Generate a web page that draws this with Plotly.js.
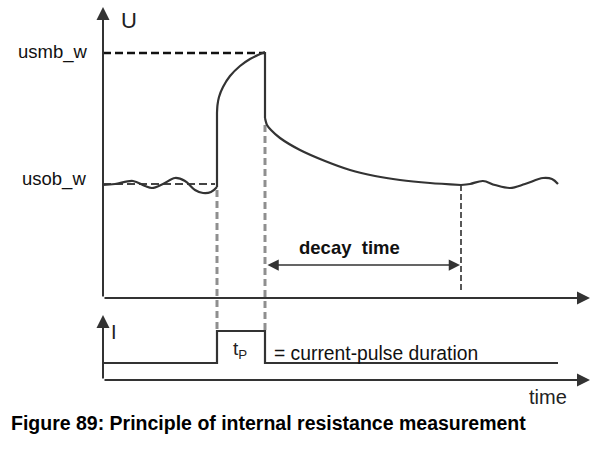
<!DOCTYPE html>
<html><head><meta charset="utf-8">
<script src="https://cdn.plot.ly/plotly-3.0.1.min.js"></script>
<style>html,body{margin:0;padding:0;background:#fff}#chart{width:612px;height:454px}</style>
</head><body><div id="chart"></div>
<script>
// Schematic values (arbitrary units): time t, voltage U, current I
var usmb = 24.5, usob = 11.4;
var tPulseStart = 11.4, tPulseEnd = 16.2, tDecayEnd = 35.8, tAxisEnd = 48.7;

var tBase = [0, 1.2, 3.0, 4.2, 4.9, 6.0, 7.2, 8.2, 9.2, 10.0, 10.8, 11.4];
var uBase = [11.3, 11.4, 11.7, 11.2, 11.0, 11.4, 12.0, 11.7, 10.8, 10.5, 10.6, 11.1];

var tRise = [11.4, 11.4, 11.45, 11.6, 12.0, 12.7, 13.7, 14.7, 15.5, 16.2];
var uRise = [11.1, 18.5, 19.3, 20.1, 21.1, 22.2, 23.2, 23.9, 24.3, 24.6];

var tDecay = [16.2, 16.2, 16.4, 16.8, 17.7, 19.7, 22.2, 24.7, 27.2, 29.7, 32.7, 35.8];
var uDecay = [24.6, 18.0, 17.3, 16.8, 16.0, 14.8, 13.7, 12.8, 12.2, 11.8, 11.5, 11.3];

var tTail = [35.8, 36.7, 38.0, 39.2, 40.7, 42.2, 44.0, 44.9, 45.5];
var uTail = [11.3, 11.4, 11.7, 11.3, 11.0, 11.4, 12.0, 11.9, 11.4];

var tCurrent = [0, 11.4, 11.4, 16.2, 16.2, 45.5];
var iCurrent = [0, 0, 1, 1, 0, 0];

var lineCol = '#333333';
var FONT = 'Liberation Sans, Arial, sans-serif';

function line(x, y, opts) {
  return Object.assign({x: x, y: y, mode: 'lines', hoverinfo: 'skip', showlegend: false,
    line: {color: lineCol, width: 2.2}}, opts || {});
}

var traces = [
  line([0, tPulseEnd], [usmb, usmb], {line: {color: '#111', width: 2.5, dash: '8px,4px'}}),
  line([0, 11.2], [usob, usob], {line: {color: '#444', width: 2, dash: '8px,4px'}}),
  line([tPulseStart, tPulseStart], [10.8, -3.3], {line: {color: '#8f8f8f', width: 3, dash: '7px,4px'}}),
  line([tPulseEnd, tPulseEnd], [17.3, -3.3], {line: {color: '#8f8f8f', width: 3, dash: '7px,4px'}}),
  line([tDecayEnd, tDecayEnd], [11.3, 0.5], {line: {color: '#222', width: 1.5, dash: '6px,3px'}}),
  line(tBase, uBase, {line: {color: lineCol, width: 2.2, shape: 'spline', smoothing: 1}}),
  line(tRise.slice(0, 2), uRise.slice(0, 2)),
  line(tRise.slice(1), uRise.slice(1), {line: {color: lineCol, width: 2.2, shape: 'spline', smoothing: 0.8}}),
  line(tDecay.slice(0, 2), uDecay.slice(0, 2)),
  line(tDecay.slice(1), uDecay.slice(1), {line: {color: lineCol, width: 2.2, shape: 'spline', smoothing: 0.8}}),
  line(tTail, uTail, {line: {color: lineCol, width: 2.2, shape: 'spline', smoothing: 1}}),
  line(tCurrent, iCurrent, {yaxis: 'y2'})
];

function arrow(x, y, ax, ay, yref, extra) {
  return Object.assign({x: x, y: y, ax: ax, ay: ay, xref: 'x', yref: yref, axref: 'x', ayref: yref,
    showarrow: true, arrowhead: 2, arrowsize: 1.3, arrowwidth: 2, arrowcolor: lineCol, text: '',
    standoff: 0, startstandoff: 0}, extra || {});
}

var annotations = [
  arrow(0, 29.1, 0, 0, 'y'),
  arrow(tAxisEnd, 0, 0, 0, 'y'),
  arrow(0, 1.5, 0, -0.53, 'y2'),
  arrow(tAxisEnd, -0.53, 0, -0.53, 'y2'),
  arrow(tDecayEnd - 0.1, 3.3, tPulseEnd + 0.1, 3.3, 'y', {arrowside: 'end+start', arrowwidth: 1.5, arrowsize: 1.5}),
  {x: 2.6, y: 27.8, xref: 'x', yref: 'y', text: 'U', showarrow: false, font: {family: FONT, size: 22, color: '#222'}},
  {x: -1.3, y: 24.6, xref: 'x', yref: 'y', xanchor: 'right', text: 'usmb_w', showarrow: false, font: {family: FONT, size: 18.5, color: '#111'}},
  {x: -1.5, y: 11.9, xref: 'x', yref: 'y', xanchor: 'right', text: 'usob_w', showarrow: false, font: {family: FONT, size: 18.5, color: '#111'}},
  {x: 24.6, y: 5.1, xref: 'x', yref: 'y', text: '<b>decay  time</b>', showarrow: false, font: {family: FONT, size: 18.5, color: '#111'}},
  {x: 1.1, y: 0.97, xref: 'x', yref: 'y2', text: 'I', showarrow: false, font: {family: FONT, size: 20, color: '#222'}},
  {x: 13.7, y: 0.4, xref: 'x', yref: 'y2', text: 't<sub>P</sub>', showarrow: false, font: {family: FONT, size: 19, color: '#222'}},
  {x: 16.9, y: 0.31, xref: 'x', yref: 'y2', xanchor: 'left', text: '= current-pulse duration', showarrow: false, font: {family: FONT, size: 19.3, color: '#111'}},
  {x: 44.5, y: -1.06, xref: 'x', yref: 'y2', text: 'time', showarrow: false, font: {family: FONT, size: 20, color: '#222'}},
  {x: 9 / 612, y: 1 - 436 / 454, xref: 'paper', yref: 'paper', xanchor: 'left', text: '<b>Figure 89: Principle of internal resistance measurement</b>', showarrow: false, font: {family: FONT, size: 19.5, color: '#000'}}
];

var layout = {
  width: 612, height: 454,
  margin: {l: 0, r: 0, t: 0, b: 0},
  paper_bgcolor: '#fff', plot_bgcolor: '#fff',
  xaxis: {range: [-10.3, 50.9], visible: false, fixedrange: true},
  yaxis: {range: [-15.6, 29.8], visible: false, fixedrange: true},
  yaxis2: {range: [-91 / 32, 363 / 32], overlaying: 'y', visible: false, fixedrange: true},
  annotations: annotations,
  showlegend: false
};

Plotly.newPlot('chart', traces, layout, {displayModeBar: false, staticPlot: true});
</script></body></html>
